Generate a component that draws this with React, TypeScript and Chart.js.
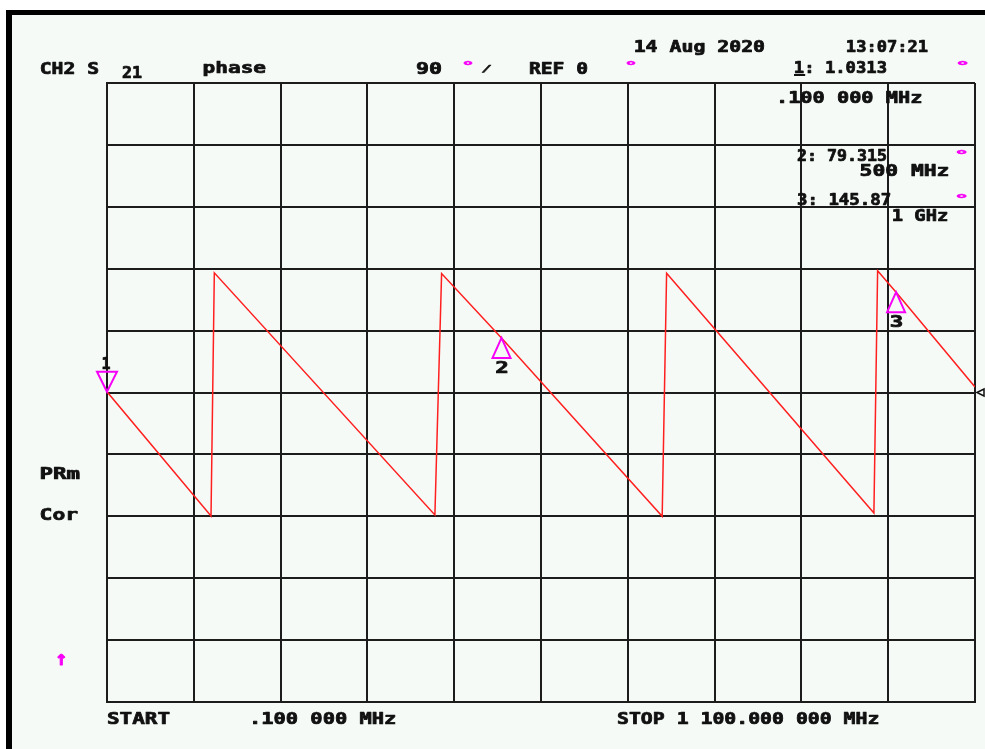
import { useEffect, useRef } from "react";
import { Chart, registerables } from "chart.js";

Chart.register(...registerables);

// ---- Data ----
const FREQ_START_MHZ = 0.1;
const FREQ_STOP_MHZ = 1100;
const PHASE_MIN_DEG = -450;
const PHASE_MAX_DEG = 450;
const PHASE_DIV_DEG = 90;
const X_DIVISIONS = 10;

// Measured S21 phase trace (MHz, degrees)
const traceFreqMHz = [0.1, 131.9, 136.1, 415.6, 424.1, 500, 703.6, 709.2, 971.9, 976.6, 1000, 1100];
const tracePhaseDeg = [1.03, -179.6, 174, -178, 173, 79.3, -180, 173.5, -175.2, 177, 145.87, 8];

// Markers
const markerIds = ["1", "2", "3"];
const markerFreqMHz = [0.1, 500, 1000];
const markerPhaseDeg = [1.0313, 79.315, 145.87];
const markerActive = [true, false, false];

// ---- Styling ----
const BG = "#f5faf6";
const GRID = "#1c1c1c";
const TRACE = "#ff1f1f";
const MAGENTA = "#f700f7";
const INK = "#111111";
const FONT = '"DejaVu Sans Mono", monospace';

type Label = { text: string; x: number; y: number; w: number; color?: string; underlineFirst?: boolean };
type Symbol = { text: string; x: number; top: number; w: number; h: number; color?: string };

const labels: Label[] = [
  { text: "CH2 S", x: 41, y: 74, w: 58 },
  { text: "21", x: 122, y: 78, w: 20 },
  { text: "phase", x: 204, y: 73, w: 62 },
  { text: "90", x: 416, y: 74, w: 26 },
  { text: "REF 0", x: 529, y: 74, w: 59 },
  { text: "14 Aug 2020", x: 635, y: 52, w: 130 },
  { text: "13:07:21", x: 847, y: 52, w: 81 },
  { text: "1: 1.0313", x: 795, y: 73, w: 92, underlineFirst: true },
  { text: ".100 000 MHz", x: 780, y: 103, w: 141 },
  { text: "2: 79.315", x: 797, y: 161, w: 90 },
  { text: "500 MHz", x: 861, y: 176, w: 87 },
  { text: "3: 145.87", x: 797, y: 205, w: 93 },
  { text: "1 GHz", x: 893, y: 221, w: 54 },
  { text: "PRm", x: 41, y: 479, w: 39 },
  { text: "Cor", x: 41, y: 520, w: 37 },
  { text: "START", x: 107, y: 724, w: 63 },
  { text: ".100 000 MHz", x: 253, y: 724, w: 142 },
  { text: "STOP 1 100.000 000 MHz", x: 617, y: 724, w: 261 },
];

const symbols: Symbol[] = [
  { text: "°", x: 464, top: 60, w: 8, h: 5, color: MAGENTA },
  { text: "/", x: 481, top: 65, w: 11, h: 8, color: INK },
  { text: "°", x: 627, top: 60, w: 8, h: 5, color: MAGENTA },
  { text: "°", x: 958, top: 60, w: 9, h: 5, color: MAGENTA },
  { text: "°", x: 957, top: 149, w: 9, h: 5, color: MAGENTA },
  { text: "°", x: 957, top: 193, w: 9, h: 5, color: MAGENTA },
  { text: "↑", x: 58, top: 653, w: 8, h: 12, color: MAGENTA },
];

function fillBold(ctx: CanvasRenderingContext2D, text: string, color: string) {
  ctx.fillStyle = color;
  ctx.strokeStyle = color;
  ctx.lineWidth = 0.7;
  ctx.lineJoin = "round";
  ctx.fillText(text, 0, 0);
  ctx.strokeText(text, 0, 0);
}

function drawLabel(ctx: CanvasRenderingContext2D, t: Label) {
  ctx.save();
  ctx.font = `bold 15px ${FONT}`;
  ctx.textBaseline = "alphabetic";
  const m = ctx.measureText(t.text);
  const m1 = ctx.measureText(t.text[0]);
  const vis = m.actualBoundingBoxLeft + m.actualBoundingBoxRight;
  const sx = t.w / vis;
  ctx.translate(t.x + m.actualBoundingBoxLeft * sx, t.y);
  ctx.scale(sx, 1);
  fillBold(ctx, t.text, t.color || INK);
  ctx.restore();
  if (t.underlineFirst) {
    const w1 = (m1.actualBoundingBoxLeft + m1.actualBoundingBoxRight) * sx;
    ctx.save();
    ctx.fillStyle = t.color || INK;
    ctx.fillRect(t.x - 1, t.y + 1, w1 + 2, 2);
    ctx.restore();
  }
}

function drawSymbol(ctx: CanvasRenderingContext2D, s: Symbol) {
  ctx.save();
  ctx.font = `bold 15px ${FONT}`;
  ctx.textBaseline = "alphabetic";
  const m = ctx.measureText(s.text);
  const vw = m.actualBoundingBoxLeft + m.actualBoundingBoxRight;
  const vh = m.actualBoundingBoxAscent + m.actualBoundingBoxDescent;
  const sx = s.w / vw;
  const sy = s.h / vh;
  ctx.translate(s.x + m.actualBoundingBoxLeft * sx, s.top + m.actualBoundingBoxAscent * sy);
  ctx.scale(sx, sy);
  fillBold(ctx, s.text, s.color || INK);
  ctx.restore();
}

const framePlugin = {
  id: "frame",
  beforeDraw(chart: any) {
    const ctx: CanvasRenderingContext2D = chart.ctx;
    const W = chart.width;
    const H = chart.height;
    ctx.save();
    ctx.fillStyle = "#ffffff";
    ctx.fillRect(0, 0, W, H);
    ctx.fillStyle = "#000000";
    ctx.fillRect(6, 10, W, H);
    ctx.fillStyle = BG;
    ctx.fillRect(12, 15, W, H);
    ctx.restore();
  },
  afterDraw(chart: any) {
    const ctx: CanvasRenderingContext2D = chart.ctx;
    labels.forEach((t) => drawLabel(ctx, t));
    symbols.forEach((s) => drawSymbol(ctx, s));
    // reference position indicator on the right edge
    const xs = chart.scales.x;
    const ys = chart.scales.y;
    const rx = xs.getPixelForValue(FREQ_STOP_MHZ);
    const ry = ys.getPixelForValue(0);
    ctx.save();
    ctx.strokeStyle = INK;
    ctx.lineWidth = 1.5;
    ctx.beginPath();
    ctx.moveTo(rx + 2, ry);
    ctx.lineTo(rx + 9, ry - 3.5);
    ctx.lineTo(rx + 9, ry + 3.5);
    ctx.closePath();
    ctx.stroke();
    ctx.restore();
  },
};

const markerPlugin = {
  id: "markers",
  afterDatasetsDraw(chart: any) {
    const ctx: CanvasRenderingContext2D = chart.ctx;
    const xs = chart.scales.x;
    const ys = chart.scales.y;
    markerIds.forEach((id, i) => {
      const px = xs.getPixelForValue(markerFreqMHz[i]);
      const py = ys.getPixelForValue(markerPhaseDeg[i]);
      ctx.save();
      ctx.strokeStyle = MAGENTA;
      ctx.lineWidth = 2;
      ctx.beginPath();
      if (markerActive[i]) {
        ctx.moveTo(px, py);
        ctx.lineTo(px - 10, py - 20);
        ctx.lineTo(px + 10, py - 20);
      } else {
        ctx.moveTo(px, py);
        ctx.lineTo(px - 9, py + 20);
        ctx.lineTo(px + 9, py + 20);
      }
      ctx.closePath();
      ctx.stroke();
      ctx.restore();

      ctx.save();
      ctx.font = `bold 15px ${FONT}`;
      ctx.textAlign = "center";
      ctx.textBaseline = "alphabetic";
      ctx.translate(px + (markerActive[i] ? -1 : 0.5), markerActive[i] ? py - 23 : py + 35);
      ctx.scale(id === "1" ? 1.0 : 1.5, 1);
      fillBold(ctx, id, INK);
      ctx.restore();
    });
  },
};

export default function App() {
  const canvasRef = useRef<HTMLCanvasElement | null>(null);

  useEffect(() => {
    if (!canvasRef.current) return;
    const points = traceFreqMHz.map((f, i) => ({ x: f, y: tracePhaseDeg[i] }));
    const gridOpts = { color: GRID, lineWidth: 2, drawTicks: false };
    const chart = new Chart(canvasRef.current, {
      type: "line",
      data: {
        datasets: [
          {
            label: "S21 phase",
            data: points,
            borderColor: TRACE,
            borderWidth: 1.5,
            pointRadius: 0,
            tension: 0,
            fill: false,
          },
        ],
      },
      options: {
        animation: false,
        responsive: true,
        maintainAspectRatio: false,
        layout: { padding: { left: 107, top: 83, right: 10, bottom: 47 } },
        plugins: { legend: { display: false }, tooltip: { enabled: false } },
        scales: {
          x: {
            type: "linear",
            min: FREQ_START_MHZ,
            max: FREQ_STOP_MHZ,
            afterBuildTicks: (s: any) => {
              s.ticks = Array.from({ length: X_DIVISIONS + 1 }, (_, i) => ({
                value: FREQ_START_MHZ + (i * (FREQ_STOP_MHZ - FREQ_START_MHZ)) / X_DIVISIONS,
              }));
            },
            ticks: { display: false },
            grid: gridOpts,
            border: { display: true, color: GRID, width: 2 },
          },
          y: {
            type: "linear",
            min: PHASE_MIN_DEG,
            max: PHASE_MAX_DEG,
            ticks: { display: false, stepSize: PHASE_DIV_DEG },
            grid: gridOpts,
            border: { display: true, color: GRID, width: 2 },
          },
        },
      },
      plugins: [framePlugin, markerPlugin],
    });
    return () => chart.destroy();
  }, []);

  return (
    <div style={{ position: "fixed", left: 0, top: 0, width: 985, height: 749 }}>
      <canvas ref={canvasRef} />
    </div>
  );
}
